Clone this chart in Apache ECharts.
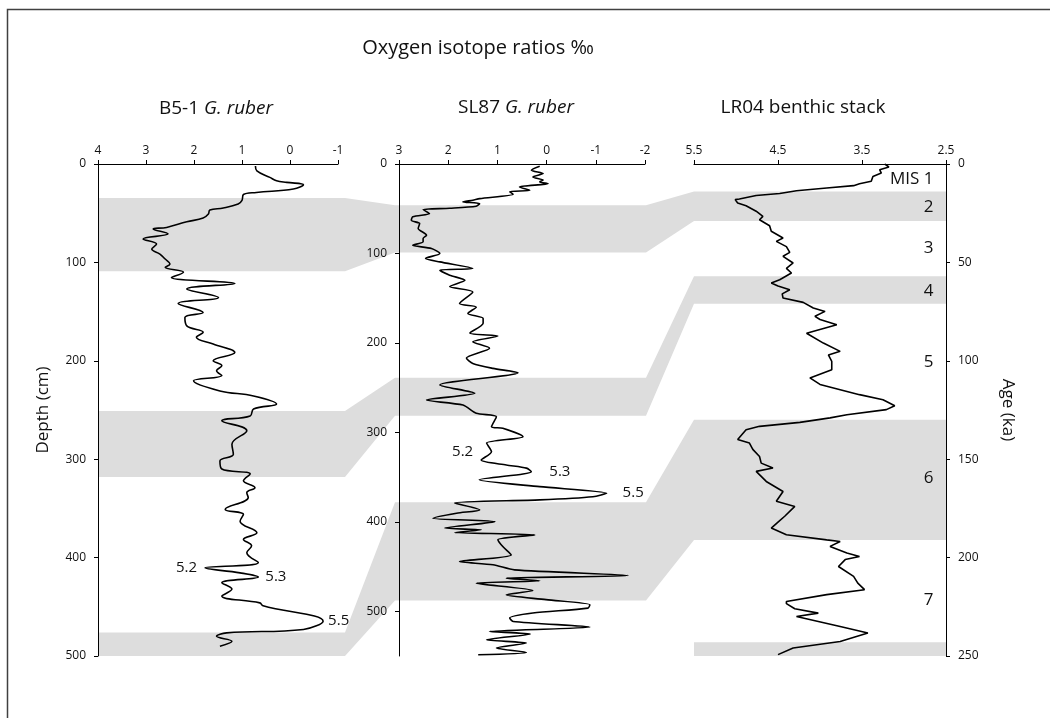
<!DOCTYPE html>
<html>
<head>
<meta charset="utf-8">
<script src="https://cdn.jsdelivr.net/npm/echarts@6/dist/echarts.min.js"></script>
<style>
  html, body { margin: 0; padding: 0; background: #fff; }
  #chart { width: 1050px; height: 718px; }
</style>
</head>
<body>
<div id="chart"></div>
<script>
// ---- B5-1 G. ruber (depth in cm, d18O in per mil) ----
const b51Depth = [2, 7, 13.6, 17, 18.7, 21, 25.4, 28.9, 31, 37, 40.7, 44.8, 46.8, 50.9, 55, 58.7, 64.5, 66, 71, 76.3,
  81.4, 86.5, 91.5, 96.6, 101.7, 105, 110, 115.4, 121.4, 127, 135.7, 141.8, 151, 156, 164.5, 171, 176, 183, 191.6, 200,
  205, 210, 215, 220.4, 230.6, 235.7, 244, 249, 256, 261, 271, 284.8, 295, 301.8, 310, 315, 322, 329, 334, 339,
  351, 356, 363, 374.8, 381.5, 388, 395, 405, 410.4, 415.5, 419.8, 425.6, 432, 439, 446, 449, 464.6, 473, 476.5, 480,
  485, 490];
const b51Value = [0.72, 0.69, 0.42, 0.28, 0.07, -0.28, -0.07, 0.70, 0.97, 1.00, 1.08, 1.39, 1.67, 1.70, 1.81, 2.15, 2.57, 2.85, 2.54, 3.06,
  2.78, 2.88, 2.71, 2.60, 2.50, 2.60, 2.22, 2.47, 1.15, 2.15, 1.49, 2.33, 1.81, 2.19, 2.15, 1.81, 1.95, 1.60, 1.15, 1.60,
  1.42, 1.53, 1.42, 2.01, 1.46, 0.76, 0.28, 0.76, 0.83, 1.42, 0.90, 1.21, 1.18, 1.46, 1.42, 0.83, 0.97, 0.73, 0.90, 0.87,
  1.35, 0.97, 1.04, 0.69, 0.97, 0.80, 0.90, 0.66, 1.77, 1.04, 0.66, 1.42, 1.21, 1.42, 0.63, 0.56, -0.69, -0.28, 1.32, 1.53,
  1.21, 1.46];

// ---- SL87 G. ruber (depth in cm, d18O in per mil) ----
const sl87Depth = [2.6, 7, 10.7, 14.5, 18, 20, 22, 25.7, 29.4, 31, 33.8, 38.7, 40.5, 42.4, 44.3, 47.2, 49.5, 51, 55.4, 59,
  63, 66.6, 72, 79.6, 83.3, 87, 90.8, 94.5, 100, 105.6, 109.4, 116.8, 118.7, 124.3, 130, 137, 143, 156, 160, 167,
  172.6, 178, 189, 192.4, 198.8, 206, 217, 223, 228.5, 233.4, 247, 256.4, 263.9, 269.5, 278.7, 282.5, 293.7, 295.5, 304.8, 312,
  321.6, 331, 336.5, 340, 344, 346.5, 353, 360.7, 368, 371.9, 375.5, 379, 386.7, 390.4, 396, 399.8, 407, 409, 412, 414.6,
  420, 427.7, 437, 444.4, 448, 453.7, 460, 463, 466, 468.6, 476.8, 481.6, 487, 492.8, 496.5, 502, 507.6, 511.4, 517.7, 522.6,
  525.5, 531.9, 535.6, 541, 546, 548.6];
const sl87Value = [0.14, 0.31, 0.07, 0.28, 0.07, 0.14, -0.03, 0.55, 0.34, 0.75, 0.68, 1.36, 1.50, 1.70, 1.36, 1.43, 1.97, 2.51, 2.38, 2.72,
  2.75, 2.58, 2.61, 2.44, 2.51, 2.51, 2.72, 2.34, 2.17, 2.46, 2.17, 1.50, 2.17, 1.97, 1.66, 1.97, 1.50, 1.77, 1.43, 1.60,
  1.29, 1.29, 1.56, 0.99, 1.50, 1.16, 1.63, 1.50, 1.09, 0.58, 2.17, 1.46, 2.44, 1.70, 1.43, 1.02, 1.12, 0.89, 0.48, 1.22,
  1.12, 1.33, 0.82, 0.41, 0.31, 0.48, 1.37, 0.14, -1.22, -0.94, 0.14, 1.87, 1.36, 1.83, 2.31, 1.05, 2.07, 1.33, 1.87, 0.24,
  0.99, 0.89, 0.72, 1.77, 1.09, 0.65, -1.66, 0.82, 0.14, 1.43, 0.28, 0.82, 0.01, -0.88, -0.84, 0.28, 0.75, 0.68, -0.88, 1.16,
  0.33, 1.22, 0.41, 1.02, 0.41, 1.39];

// ---- LR04 benthic stack (age in ka, d18O in per mil) ----
const lr04Age = [0, 1.5, 2.9, 4.6, 6.3, 8.8, 10, 11, 12.2, 13.6, 15, 16, 17.8, 18.1, 19.8, 21.2, 24, 26.6, 28.3, 31.4,
  34.2, 37.6, 39.3, 42, 44.9, 46.9, 50.3, 53, 55.4, 58.8, 60.5, 62, 63.9, 66, 68.1, 70.3, 73.2, 74.9, 77.4, 79,
  81.7, 86, 91, 95.2, 97, 100.3, 104.5, 108.7, 112, 117.2, 119.8, 122.8, 124.8, 127.4, 129, 131.3, 133.3, 135, 140, 141.8,
  145, 148.6, 152, 154.5, 156.2, 161.3, 166.4, 171.4, 174, 179, 182, 185, 188.4, 191, 191.8, 194.3, 197.7, 199.4, 201, 204.5,
  209.5, 213, 216.3, 218.8, 222.3, 223.4, 226, 228.2, 229.9, 235, 238.3, 242.6, 245.9, 249.3];
const lr04Value = [3.23, 3.18, 3.29, 3.27, 3.37, 3.39, 3.53, 3.60, 3.92, 4.28, 4.48, 4.76, 4.96, 5.01, 4.98, 4.88, 4.76, 4.68, 4.72, 4.60,
  4.58, 4.44, 4.52, 4.40, 4.36, 4.44, 4.32, 4.40, 4.34, 4.48, 4.58, 4.50, 4.36, 4.45, 4.44, 4.20, 4.08, 3.94, 4.06, 4.00,
  3.80, 4.16, 3.96, 3.76, 3.90, 3.86, 3.86, 4.12, 4.00, 3.53, 3.25, 3.11, 3.21, 3.68, 3.88, 4.24, 4.72, 4.88, 4.98, 4.84,
  4.80, 4.72, 4.70, 4.56, 4.76, 4.64, 4.44, 4.52, 4.30, 4.42, 4.50, 4.58, 4.40, 3.92, 3.76, 3.88, 3.68, 3.53, 3.70, 3.78,
  3.60, 3.55, 3.47, 3.92, 4.40, 4.40, 4.30, 4.02, 4.28, 3.76, 3.43, 3.76, 4.32, 4.50];

// ---- tick values ----
const b51XTicks = [4, 3, 2, 1, 0, -1];
const sl87XTicks = [3, 2, 1, 0, -1, -2];
const lr04XTicks = [5.5, 4.5, 3.5, 2.5];
const depthTicks = [0, 100, 200, 300, 400, 500];
const ageTicks = [0, 50, 100, 150, 200, 250];

// ---- glacial stage intervals (top, bottom) in each record ----
const b51Bands = [[34.6, 109], [251, 318], [476, 500]];
const sl87Bands = [[46, 99], [239, 281.5], [378, 488]];
const lr04Bands = [[14, 29], [57, 71], [130, 191], [243, 250]];

// ---- marine isotope stage labels on the LR04 panel ----
const misNames = ['MIS 1', '2', '3', '4', '5', '6', '7'];
const misAges = [7.6, 21.8, 42.6, 64.7, 100.8, 159.5, 221.4];

// ---- MIS 5 substage labels on the planktonic records ----
const b51SubNames = ['5.2', '5.3', '5.5'];
const b51SubPoints = [[1.77, 410.4], [0.66, 419.8], [-0.69, 464.6]];
const sl87SubNames = ['5.2', '5.3', '5.5'];
const sl87SubPoints = [[1.33, 322], [0.31, 344], [-1.22, 368]];

const FONT = '"Open Sans", "Noto Sans", sans-serif';
const INK = '#111';

const chart = echarts.init(document.getElementById('chart'), null, { renderer: 'canvas' });

function xAxisCfg(gridIndex, min, max, ticks) {
  return {
    gridIndex, type: 'value', position: 'top', inverse: true, min, max,
    axisLine: { show: true, onZero: false, lineStyle: { color: '#000', width: 1 } },
    axisTick: { show: true, length: 4, customValues: ticks, lineStyle: { color: '#000' } },
    axisLabel: { customValues: ticks, margin: 7, color: INK, fontSize: 12, fontFamily: FONT },
    splitLine: { show: false }
  };
}
function yAxisCfg(gridIndex, min, max, ticks, position, extra) {
  return Object.assign({
    gridIndex, type: 'value', position, inverse: true, min, max,
    axisLine: { show: true, onZero: false, lineStyle: { color: '#000', width: 1 } },
    axisTick: { show: true, length: 4, customValues: ticks, lineStyle: { color: '#000' } },
    axisLabel: { customValues: ticks, margin: 12, color: INK, fontSize: 12, fontFamily: FONT },
    splitLine: { show: false }
  }, extra || {});
}

function profile(xi, depths, values, smooth) {
  return {
    type: 'line', xAxisIndex: xi, yAxisIndex: xi,
    data: depths.map((d, i) => [values[i], d]),
    symbol: 'none', smooth, silent: true, z: 3,
    lineStyle: { color: '#000', width: 1.6 }
  };
}

function labelSeries(xi, names, points, position, distances) {
  return {
    type: 'scatter', xAxisIndex: xi, yAxisIndex: xi, symbolSize: 0, silent: true, z: 4,
    itemStyle: { opacity: 1 },
    data: points.map((p, i) => ({
      value: p,
      label: { show: true, formatter: names[i], position: position[i], distance: distances[i],
        color: INK, fontSize: 15, fontFamily: FONT }
    }))
  };
}

const option = {
  animation: false,
  backgroundColor: '#fff',
  grid: [
    { left: 98, top: 164, width: 240, height: 492 },
    { left: 399, top: 164, width: 246, height: 492 },
    { left: 694, top: 164, width: 252, height: 492 }
  ],
  xAxis: [
    xAxisCfg(0, -1, 4, b51XTicks),
    xAxisCfg(1, -2, 3, sl87XTicks),
    xAxisCfg(2, 2.5, 5.5, lr04XTicks)
  ],
  yAxis: [
    yAxisCfg(0, 0, 500, depthTicks, 'left', {
      name: 'Depth (cm)', nameLocation: 'middle', nameRotate: 90, nameGap: 46,
      nameTextStyle: { fontSize: 17, color: INK, fontFamily: FONT }
    }),
    yAxisCfg(1, 0, 550, depthTicks, 'left'),
    yAxisCfg(2, 0, 250, ageTicks, 'right', {
      name: 'Age (ka)', nameLocation: 'middle', nameRotate: -90, nameGap: 53,
      nameTextStyle: { fontSize: 17, color: INK, fontFamily: FONT }
    })
  ],
  series: [
    profile(0, b51Depth, b51Value, 0.4),
    profile(1, sl87Depth, sl87Value, 0.25),
    profile(2, lr04Age, lr04Value, false),
    labelSeries(0, b51SubNames, b51SubPoints, ['left', 'right', 'right'], [8, 7, 5]),
    labelSeries(1, sl87SubNames, sl87SubPoints, ['left', 'right', 'right'], [8, 18, 16]),
    {
      type: 'scatter', xAxisIndex: 2, yAxisIndex: 2, symbolSize: 0, silent: true, z: 4,
      itemStyle: { opacity: 1 },
      data: misAges.map((a, i) => ({
        value: [2.65, a],
        label: { show: true, formatter: misNames[i], position: 'left', distance: 0,
          color: INK, fontSize: 17, fontFamily: FONT }
      }))
    }
  ]
};
chart.setOption(option);

// ---- shaded stage bands, linked from record to record ----
const panelBands = [b51Bands, sl87Bands, lr04Bands];
const panelXRange = [[4, -1], [3, -2], [5.5, 2.5]];   // [left value, right value] (axes are reversed)
const overhang = [[0, 7], [4, 1], [0, 0]];           // extra px of shading beyond each plot edge

function edgePoints(p, depth) {
  const l = chart.convertToPixel({ gridIndex: p }, [panelXRange[p][0], depth]);
  const r = chart.convertToPixel({ gridIndex: p }, [panelXRange[p][1], depth]);
  return [[l[0] - overhang[p][0], l[1]], [r[0] + overhang[p][1], r[1]]];
}

const nChains = Math.max(b51Bands.length, sl87Bands.length, lr04Bands.length);
const bandShapes = [];
for (let c = 0; c < nChains; c++) {
  const top = [], bottom = [];
  for (let p = 0; p < 3; p++) {
    const b = panelBands[p][c];
    if (!b) continue;
    top.push(...edgePoints(p, b[0]));
    bottom.push(...edgePoints(p, b[1]));
  }
  const pts = top.concat(bottom.reverse());
  bandShapes.push({
    type: 'polygon', silent: true, z: -5,
    shape: { points: pts },
    style: { fill: '#dddddd', stroke: null }
  });
}

const texts = [
  { type: 'text', x: 478, y: 48, silent: true,
    style: { text: 'Oxygen isotope ratios ‰', fill: INK, font: '20px ' + FONT, align: 'center', verticalAlign: 'middle' } },
  { type: 'text', x: 216, y: 109, silent: true,
    style: { text: 'B5-1 {i|G. ruber}', fill: INK, font: '19px ' + FONT, align: 'center', verticalAlign: 'middle',
      rich: { i: { fontStyle: 'italic', fontSize: 19, fontFamily: FONT, fill: INK } } } },
  { type: 'text', x: 516, y: 108, silent: true,
    style: { text: 'SL87 {i|G. ruber}', fill: INK, font: '19px ' + FONT, align: 'center', verticalAlign: 'middle',
      rich: { i: { fontStyle: 'italic', fontSize: 19, fontFamily: FONT, fill: INK } } } },
  { type: 'text', x: 803, y: 108, silent: true,
    style: { text: 'LR04 benthic stack', fill: INK, font: '19px ' + FONT, align: 'center', verticalAlign: 'middle' } }
];

const frame = {
  type: 'rect', silent: true, z: -10,
  shape: { x: 7.5, y: 9.5, width: 1100, height: 800 },
  style: { fill: null, stroke: '#404040', lineWidth: 1.5 }
};

chart.setOption({ graphic: [frame].concat(bandShapes, texts) });
</script>
</body>
</html>
